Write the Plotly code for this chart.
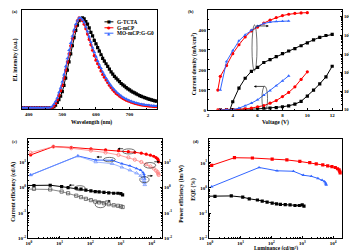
import plotly.graph_objects as go

W, H = 357, 250
FONT = "Liberation Serif"
BLACK, RED, BLUE = "#000000", "#FF0000", "#3366FF"

# ---------------- (a) EL spectra ----------------
wavelength = [380, 385, 390, 395, 400, 405, 410, 415, 420, 425, 430, 435, 440, 445, 450, 455, 460, 465,
              470, 475, 480, 485, 490, 495, 500, 505, 510, 515, 520, 525, 530, 535, 540, 545, 550,
              555, 560, 565, 570, 575, 580, 585, 590, 595, 600, 605, 610, 615, 620, 625, 630, 635,
              640, 645, 650, 655, 660, 665, 670, 675, 680, 685, 690, 695, 700, 705, 710, 715, 720,
              725, 730, 735, 740, 745, 750, 755, 760, 765, 770, 775, 780]
el_tcta = [0, 0, 0, 0, 0, 0, 0, 0, 0, 0, 0, 0, 0, 0, 0, 0, 0, 0,
           0, 0.01, 0.03, 0.06, 0.09, 0.13, 0.18, 0.25, 0.33, 0.42, 0.51, 0.60, 0.69, 0.78, 0.86, 0.92, 0.97,
           0.99, 1.0, 0.99, 0.96, 0.93, 0.89, 0.84, 0.80, 0.75, 0.71, 0.67, 0.63, 0.59, 0.55, 0.52, 0.49, 0.46,
           0.43, 0.40, 0.375, 0.35, 0.33, 0.31, 0.29, 0.27, 0.255, 0.24, 0.225, 0.21, 0.20, 0.185, 0.175, 0.165, 0.155,
           0.145, 0.135, 0.127, 0.12, 0.113, 0.106, 0.10, 0.094, 0.088, 0.083, 0.078, 0.074]
el_mcp = [0, 0, 0, 0, 0, 0, 0, 0, 0, 0, 0, 0, 0, 0, 0, 0, 0, 0,
          0.005, 0.02, 0.05, 0.09, 0.14, 0.19, 0.25, 0.33, 0.42, 0.51, 0.60, 0.69, 0.77, 0.85, 0.91, 0.97, 1.0,
          0.99, 0.97, 0.93, 0.88, 0.82, 0.76, 0.70, 0.64, 0.58, 0.53, 0.49, 0.45, 0.41, 0.37, 0.34, 0.31, 0.28,
          0.25, 0.225, 0.20, 0.18, 0.16, 0.145, 0.13, 0.117, 0.105, 0.095, 0.085, 0.077, 0.07, 0.063, 0.056, 0.05, 0.045,
          0.04, 0.036, 0.032, 0.029, 0.026, 0.023, 0.021, 0.019, 0.017, 0.015, 0.014, 0.013]
el_mo = [0, 0, 0, 0, 0, 0, 0, 0, 0, 0, 0, 0, 0, 0, 0, 0, 0, 0.005,
         0.015, 0.04, 0.07, 0.11, 0.17, 0.22, 0.29, 0.37, 0.46, 0.55, 0.64, 0.72, 0.80, 0.87, 0.93, 0.97, 1.0,
         1.0, 0.98, 0.95, 0.90, 0.85, 0.79, 0.73, 0.67, 0.62, 0.57, 0.52, 0.48, 0.44, 0.40, 0.365, 0.33, 0.30,
         0.27, 0.245, 0.22, 0.20, 0.18, 0.162, 0.146, 0.132, 0.119, 0.107, 0.097, 0.088, 0.08, 0.072, 0.065, 0.059, 0.053,
         0.048, 0.044, 0.04, 0.036, 0.033, 0.03, 0.028, 0.026, 0.024, 0.022, 0.02, 0.019]
legend_names = ["G-TCTA", "G-mCP", "MO-mCP:G-G0"]

# ---------------- (b) J-V-L ----------------
v_tcta_j = [3.0, 3.5, 4.0, 4.5, 5.0, 5.5, 6.0, 6.5, 7.0, 7.5, 8.0, 8.5, 9.0, 9.5, 10.0, 10.5, 11.0, 11.5, 12.0]
j_tcta = [0, 0, 0.5, 1, 1.5, 2.5, 4, 6, 8, 11, 15, 20, 28, 42, 68, 98, 130, 165, 218]
v_tcta_l = [3.5, 4.0, 4.5, 5.0, 5.5, 6.0, 6.5, 7.0, 7.5, 8.0, 8.5, 9.0, 9.5, 10.0, 10.5, 11.0, 11.5, 12.0]
l_tcta = [0.03, 0.27, 1.47, 4.97, 11.7, 19, 35, 50, 72, 105, 145, 194, 279, 400, 578, 795, 990, 1130]
v_mcp = [2.8, 3.0, 3.5, 4.0, 4.5, 5.0, 5.5, 6.0, 6.5, 7.0, 7.5, 8.0, 8.5, 9.0, 9.5, 10.0]
j_mcp = [0, 0, 0.5, 1, 3, 5, 8, 15, 21, 33, 46, 66, 87, 115, 152, 190]
l_mcp = [1.15, 6.3, 24, 105, 315, 830, 1740, 2820, 4600, 6650, 9100, 11700, 13800, 15500, 16300, 16800]
v_mo = [3.0, 3.5, 4.0, 4.5, 5.0, 5.5, 6.0, 6.5, 7.0, 7.5, 8.0, 8.5]
j_mo = [0, 0, 1, 8, 20, 33, 50, 73, 96, 120, 145, 170]
l_mo = [1.15, 39.6, 151, 513, 1070, 1950, 3200, 4370, 5200, 5600, 5800, 5950]

# ---------------- (c) efficiencies, (d) EQE ----------------
lum_tcta = l_tcta[1:]
ce_tcta = [1.2, 1.2, 1.25, 1.1, 1.0, 0.95, 0.88, 0.8, 0.75, 0.7, 0.68, 0.65, 0.62, 0.6, 0.6, 0.58, 0.52]
pe_tcta = [0.9, 0.9, 0.85, 0.7, 0.6, 0.48, 0.42, 0.36, 0.32, 0.28, 0.26, 0.24, 0.22, 0.2, 0.19, 0.18, 0.17]
eqe_tcta = [0.46, 0.46, 0.48, 0.43, 0.37, 0.33, 0.30, 0.27, 0.25, 0.23, 0.22, 0.215, 0.21, 0.2, 0.2, 0.21, 0.19]
ce_mcp = [20, 43, 40, 35, 32, 29.5, 27, 25.5, 23.5, 21.5, 19.6, 17.8, 15.8, 14, 12.5, 10.7]
pe_mcp = [24.6, 43, 37, 30, 25, 20, 16, 13, 10.5, 8.5, 7, 5.8, 4.8, 4.2, 3.6, 3.2]
eqe_mcp = [7.9, 15.9, 15.5, 14, 13, 11.3, 10.2, 9, 8.2, 7.6, 7, 6.5, 5.8, 5.2, 4.6, 4.0]
ce_mo = [3.2, 18.3, 12.6, 12.3, 9, 7.4, 5.8, 5, 4, 3.4, 2.8, 2.2]
pe_mo = [3.2, 18, 10.5, 9, 6.5, 5, 3.8, 3, 2.3, 1.9, 1.6, 1.3]
eqe_mo = [1.12, 6.5, 4.8, 4.6, 3.2, 2.9, 2.4, 2.05, 1.8, 1.6, 1.45, 1.3]

log_vals = [0.1, 1, 10, 100, 1000, 10000]
log_text = ["10\u207b\u00b9", "10\u2070", "10\u00b9", "10\u00b2", "10\u00b3", "10\u2074"]
eff_vals = [0.01, 0.1, 1, 10]
eff_text = ["10<sup>-2</sup>", "10<sup>-1</sup>", "10<sup>0</sup>", "10<sup>1</sup>"]
lum_vals = [1, 10, 100, 1000, 10000]
lum_text = ["10<sup>0</sup>", "10<sup>1</sup>", "10<sup>2</sup>", "10<sup>3</sup>", "10<sup>4</sup>"]

fig = go.Figure()


def add(x, y, color, symbol, xa, ya, size=3.2, lw=1.0, hollow=False):
    fig.add_trace(go.Scatter(
        x=x, y=y, mode="lines+markers", xaxis=xa, yaxis=ya, showlegend=False,
        line=dict(color=color, width=lw),
        marker=dict(symbol=symbol + ("-open" if hollow else ""), size=size, color=color,
                    line=dict(color=color, width=0.8 if hollow else 0))))


# (a)
add(wavelength, el_tcta, BLACK, "square", "x", "y", size=3.2)
add(wavelength, el_mcp, RED, "circle", "x", "y", size=3.2)
add(wavelength, el_mo, BLUE, "triangle-up", "x", "y", size=3.4)
# (b)
add(v_tcta_j, j_tcta, BLACK, "square", "x2", "y2")
add(v_mcp, j_mcp, RED, "circle", "x2", "y2")
add(v_mo, j_mo, BLUE, "triangle-up", "x2", "y2")
add(v_tcta_l, l_tcta, BLACK, "square", "x2", "y3")
add(v_mcp, l_mcp, RED, "circle", "x2", "y3")
add(v_mo, l_mo, BLUE, "triangle-up", "x2", "y3")
# (c)
add(lum_tcta, ce_tcta, BLACK, "square", "x3", "y4")
add(lum_tcta, pe_tcta, "#555555", "square", "x3", "y5", lw=0.7, hollow=True)
add(l_mcp, ce_mcp, RED, "circle", "x3", "y4")
add(l_mcp, pe_mcp, "#FF7777", "circle", "x3", "y5", lw=0.7, hollow=True)
add(l_mo, ce_mo, BLUE, "triangle-up", "x3", "y4")
add(l_mo, pe_mo, "#7799FF", "triangle-up", "x3", "y5", lw=0.7, hollow=True)
# (d)
add(lum_tcta, eqe_tcta, BLACK, "square", "x4", "y6")
add(l_mcp, eqe_mcp, RED, "square", "x4", "y6")
add(l_mo, eqe_mo, BLUE, "triangle-up", "x4", "y6")

tf = dict(family=FONT, size=5, color="black", weight="bold")
base = dict(showline=True, linecolor="black", linewidth=0.9, ticks="inside", ticklen=2.2,
            tickwidth=0.7, tickcolor="black", showgrid=False, zeroline=False, tickfont=tf)
minor_lin = lambda d: dict(dtick=d, ticks="inside", ticklen=1.2, tickcolor="black", tickwidth=0.6)
minor_log = dict(dtick="D1", ticks="inside", ticklen=1.2, tickcolor="black", tickwidth=0.6)


def px(a, b):
    return [a / W, b / W]


def py(top, bottom):
    return [1 - bottom / H, 1 - top / H]


fig.update_layout(
    width=W, height=H, margin=dict(l=0, r=0, t=0, b=0),
    paper_bgcolor="white", plot_bgcolor="white", showlegend=False,
    xaxis=dict(base, domain=px(12, 148), range=[380, 782], tickvals=[400, 500, 600, 700],
               minor=minor_lin(50), anchor="y", mirror=True),
    yaxis=dict(base, domain=py(2, 102), range=[-0.011, 1.088], showticklabels=False, ticks="",
               anchor="x", mirror=True),
    xaxis2=dict(base, domain=px(199, 334), range=[2, 12.8], tick0=2, dtick=2,
                minor=minor_lin(1), anchor="y2", mirror=True),
    yaxis2=dict(base, domain=py(2, 103), range=[0, 500], dtick=100, minor=minor_lin(50), anchor="x2"),
    yaxis3=dict(base, type="log", range=[-1, 4.37], overlaying="y2", side="right", anchor="x2",
                tickmode="array", tickvals=log_vals, ticktext=log_text, minor=minor_log,
                tickfont=dict(tf, size=4.6)),
    xaxis3=dict(base, type="log", domain=px(18, 153), range=[-0.03, 4.34], tickmode="array",
                tickvals=lum_vals, ticktext=lum_text, minor=minor_log, anchor="y4", mirror=True),
    yaxis4=dict(base, type="log", domain=py(133, 233), range=[-2.01, 1.92], tickmode="array",
                tickvals=eff_vals, ticktext=eff_text, minor=minor_log, anchor="x3"),
    yaxis5=dict(base, type="log", range=[-2.01, 1.92], overlaying="y4", side="right", anchor="x3",
                tickmode="array", tickvals=eff_vals, ticktext=eff_text, minor=minor_log),
    xaxis4=dict(base, type="log", domain=px(200, 334), range=[-0.03, 4.29], tickmode="array",
                tickvals=lum_vals, ticktext=lum_text, minor=minor_log, anchor="y6", mirror=True),
    yaxis6=dict(base, type="log", domain=py(133, 233), range=[-2.0, 1.93], tickmode="array",
                tickvals=eff_vals, ticktext=eff_text, minor=minor_log, anchor="x4", mirror=True),
)

tfont = dict(family=FONT, size=5.6, color="black", weight="bold")


def label(text, x, y, angle=0, size=5.6):
    fig.add_annotation(text=text, x=x / W, y=1 - y / H, xref="paper", yref="paper", showarrow=False,
                       textangle=angle, font=dict(tfont, size=size), xanchor="center", yanchor="middle")


label("(a)", 5, 4, size=4.5)
label("EL intensity (a.u.)", 5, 52, -90)
label("Wavelength (nm)", 82, 116)
label("(b)", 182, 4, size=4.5)
label("Current density (mA/cm<sup>2</sup>)", 185, 56, -90)
label("Luminance (cd/m\u00b2)", 348.5, 55, -90, size=5.0)
label("Voltage (V)", 267, 116)
label("(c)", 5, 135, size=4.5)
label("Current efficiency (cd/A)", 4, 186, -90)
label("Power efficiency (lm/W)", 173, 188, -90)
label("(d)", 187, 135, size=4.5)
label("EQE (%)", 185, 183, -90)
label("Luminance (cd/m\u00b2)", 268, 243, size=5.4)

# custom legend for (a)
leg_rows = [14, 20, 25.5]
leg_colors = [BLACK, RED, BLUE]
leg_glyphs = ["\u25A0", "\u25CF", "\u25B2"]
for name, yy, col, g in zip(legend_names, leg_rows, leg_colors, leg_glyphs):
    fig.add_shape(type="line", xref="paper", yref="paper", x0=95 / W, x1=104 / W,
                  y0=1 - yy / H, y1=1 - yy / H, line=dict(color=col, width=1))
    fig.add_annotation(text=g, x=99.5 / W, y=1 - yy / H, xref="paper", yref="paper", showarrow=False,
                       font=dict(family="DejaVu Sans", size=4, color=col), xanchor="center", yanchor="middle")
    fig.add_annotation(text=name, x=106 / W, y=1 - yy / H, xref="paper", yref="paper", showarrow=False,
                       font=dict(family=FONT, size=5.3, color="black", weight="bold"),
                       xanchor="left", yanchor="middle")

# ellipses and arrows
ell = dict(color="#333333", width=0.7)
fig.add_shape(type="circle", xref="x2", yref="y2", x0=5.55, x1=5.95, y0=195, y1=425, line=ell)
fig.add_shape(type="circle", xref="x2", yref="y2", x0=6.35, x1=6.8, y0=-5, y1=118, line=ell)
arr = dict(showarrow=True, arrowhead=2, arrowsize=0.7, arrowwidth=0.7, arrowcolor="black", text="")
fig.add_annotation(x=6.9, y=420, xref="x2", yref="y2", ax=-14, ay=0, **arr)
fig.add_annotation(x=5.7, y=117, xref="x2", yref="y2", ax=12, ay=0, **arr)

c_ellipses = [
    (30, 69, 0.76, 1.2), (145, 320, 0.16, 0.28),
    (270, 650, 10.7, 16), (4100, 8200, 1.6, 2.7),
    (1120, 2900, 22, 35), (5600, 13500, 6, 10),
]
for x0, x1, y0, y1 in c_ellipses:
    fig.add_shape(type="circle", xref="x3", yref="y4", x0=x0, x1=x1, y0=y0, y1=y1, line=ell)
c_arrows = [  # (log x head, log y head, ax)
    (1.3, 0.1, 7), (2.67, -0.53, -7), (2.2, 1.22, 7), (4.04, 0.47, -7), (2.89, 1.55, 7), (4.26, 1.03, -7)
]
for hx, hy, axo in c_arrows:
    fig.add_annotation(x=hx, y=hy, xref="x3", yref="y4", ax=axo, ay=0, **arr)

fig.write_html("out.html")
